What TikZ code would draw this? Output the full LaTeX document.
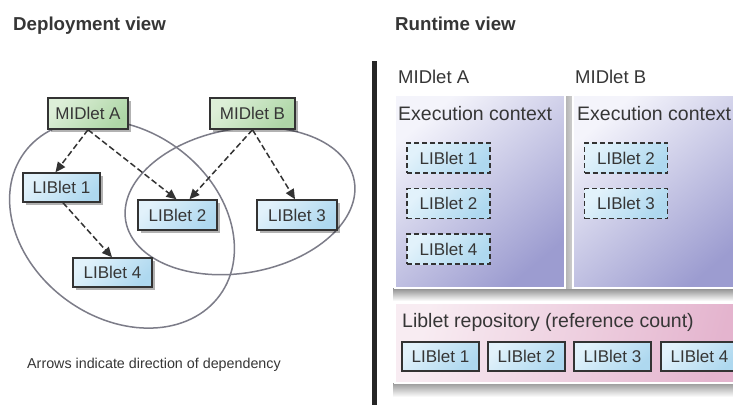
\documentclass[tikz,border=0pt]{standalone}
\usepackage{fontspec}
\setmainfont{Liberation Sans}
\usetikzlibrary{arrows.meta,shadows,calc}
\definecolor{txt}{HTML}{363636}
\definecolor{boxline}{HTML}{333333}
\definecolor{ringc}{HTML}{7C7C88}
\definecolor{grnA}{HTML}{DDEFD8}
\definecolor{grnB}{HTML}{AED6A6}
\definecolor{bluA}{HTML}{E2F2FB}
\definecolor{bluB}{HTML}{AED8EF}
\definecolor{ctxA}{HTML}{F4F4FB}
\definecolor{ctxB}{HTML}{9C9CD0}
\definecolor{repA}{HTML}{F8ECF2}
\definecolor{repB}{HTML}{E4B4CE}
\begin{document}
\begin{tikzpicture}[x=1pt,y=-1pt,
  title/.style={text=txt, inner sep=0pt, anchor=base west, font=\bfseries\fontsize{18.7}{20}\selectfont},
  lbl/.style={text=txt, inner sep=0pt, anchor=base west, font=\fontsize{18.5}{20}\selectfont},
  ctxlbl/.style={text=txt, inner sep=0pt, anchor=base west, font=\fontsize{19.5}{21}\selectfont},
  note/.style={text=txt, inner sep=0pt, anchor=base west, font=\fontsize{14.3}{16}\selectfont},
  shadebox/.style={drop shadow={shadow xshift=2.5pt, shadow yshift=-2.5pt, fill=black, opacity=0.3}},
  midbox/.style={draw=boxline, line width=1.5pt, top color=grnA, bottom color=grnB, shading angle=45,
    minimum width=80pt, minimum height=31pt, inner sep=0pt, text=txt,
    font=\fontsize{17}{17}\selectfont, shadebox},
  libbox/.style={draw=boxline, line width=1.5pt, top color=bluA, bottom color=bluB, shading angle=45,
    minimum width=79pt, minimum height=30pt, inner sep=0pt, text=txt,
    font=\fontsize{17}{17}\selectfont, shadebox},
  dlibbox/.style={draw=boxline, line width=1.5pt, dash pattern=on 5pt off 3pt,
    top color=bluA, bottom color=bluB, shading angle=45,
    minimum width=83pt, minimum height=30pt, inner sep=0pt, text=txt,
    font=\fontsize{17}{17}\selectfont},
  rlibbox/.style={draw=boxline, line width=1.8pt, top color=bluA, bottom color=bluB, shading angle=45,
    minimum width=77pt, minimum height=29pt, inner sep=0pt, text=txt,
    font=\fontsize{17}{17}\selectfont},
  ctxbox/.style={draw=white, line width=1.5pt, top color=ctxA, bottom color=ctxB, shading angle=40,
    inner sep=0pt},
  repbox/.style={draw=white, line width=1.5pt, top color=repA, bottom color=repB, shading angle=75,
    inner sep=0pt},
  ring/.style={draw=ringc, line width=1.5pt},
  dep/.style={draw=boxline, line width=1.5pt, dash pattern=on 6pt off 3pt,
    -{Triangle[length=10pt,width=9pt]}}
]
\useasboundingbox (0,0) rectangle (733,405);
\begin{scope}
\clip (0,0) rectangle (733,405);
\fill[white] (0,0) rectangle (733,405);

% ---------- titles ----------
\node[title] (t1) at (13,30) {Deployment view};
\node[title] (t2) at (395,30) {Runtime view};

% ---------- deployment view ----------
\draw[ring, rotate around={-36:(122,224)}] (122,224) ellipse [x radius=121, y radius=94];
\draw[ring, rotate around={10:(240,201)}] (240,201) ellipse [x radius=116, y radius=72];

\node[midbox] (ma) at (88,113.5) {MIDlet A};
\node[midbox, minimum width=85pt] (mb) at (252.5,113.5) {MIDlet B};
\node[libbox, minimum width=77pt, minimum height=29pt] (l1) at (61.5,187.5) {LIBlet 1};
\node[libbox] (l2) at (177.5,215) {LIBlet 2};
\node[libbox, minimum width=80pt] (l3) at (297,215) {LIBlet 3};
\node[libbox, minimum height=29pt] (l4) at (112.5,272.5) {LIBlet 4};

\draw[dep] (ma.south) -- ($(l1.north)+(-6,0)$);
\draw[dep] (ma.south) -- ($(l2.north)+(-1,0)$);
\draw[dep] (mb.south) -- ($(l2.north)+(12,0)$);
\draw[dep] (mb.south) -- ($(l3.north)+(-2,0)$);
\draw[dep] ($(l1.south)+(1.5,0)$) -- ($(l4.north)+(-0.5,0)$);

\node[note] (cap) at (27,368) {Arrows indicate direction of dependency};

% ---------- runtime view ----------
\fill[black!85] (371.5,61) rectangle (376.5,405);

\node[lbl] (mal) at (398,83) {MIDlet A};
\node[lbl] (mbl) at (575,83) {MIDlet B};

% shadows of the panels
\shade[top color=black!45, bottom color=white] (393,288) rectangle (733,301);
\shade[left color=black!30, right color=black!18] (565,96) rectangle (573,288);
\shade[top color=black!40, bottom color=white] (393,383) rectangle (733,397);

\node[ctxbox, minimum width=170pt, minimum height=193pt] (ca) at (480,191.5) {};
\node[ctxbox, minimum width=172pt, minimum height=193pt] (cb) at (659,191.5) {};
\node[ctxlbl] (cal) at (398,120) {Execution context};
\node[ctxlbl] (cbl) at (577,120) {Execution context};

\node[dlibbox] (a1) at (448.5,158) {LIBlet 1};
\node[dlibbox] (a2) at (448.5,203.5) {LIBlet 2};
\node[dlibbox] (a4) at (448.5,249) {LIBlet 4};
\node[dlibbox] (b2) at (626,158) {LIBlet 2};
\node[dlibbox] (b3) at (626,203.5) {LIBlet 3};

\node[repbox, minimum width=350pt, minimum height=80pt] (rep) at (570,343) {};
\node[ctxlbl] (repl) at (402,327) {Liblet repository (reference count)};
\node[rlibbox] (r1) at (440.5,356.5) {LIBlet 1};
\node[rlibbox] (r2) at (526.5,356.5) {LIBlet 2};
\node[rlibbox] (r3) at (612.5,356.5) {LIBlet 3};
\node[rlibbox] (r4) at (699.5,356.5) {LIBlet 4};
\end{scope}
\end{tikzpicture}
\end{document}
